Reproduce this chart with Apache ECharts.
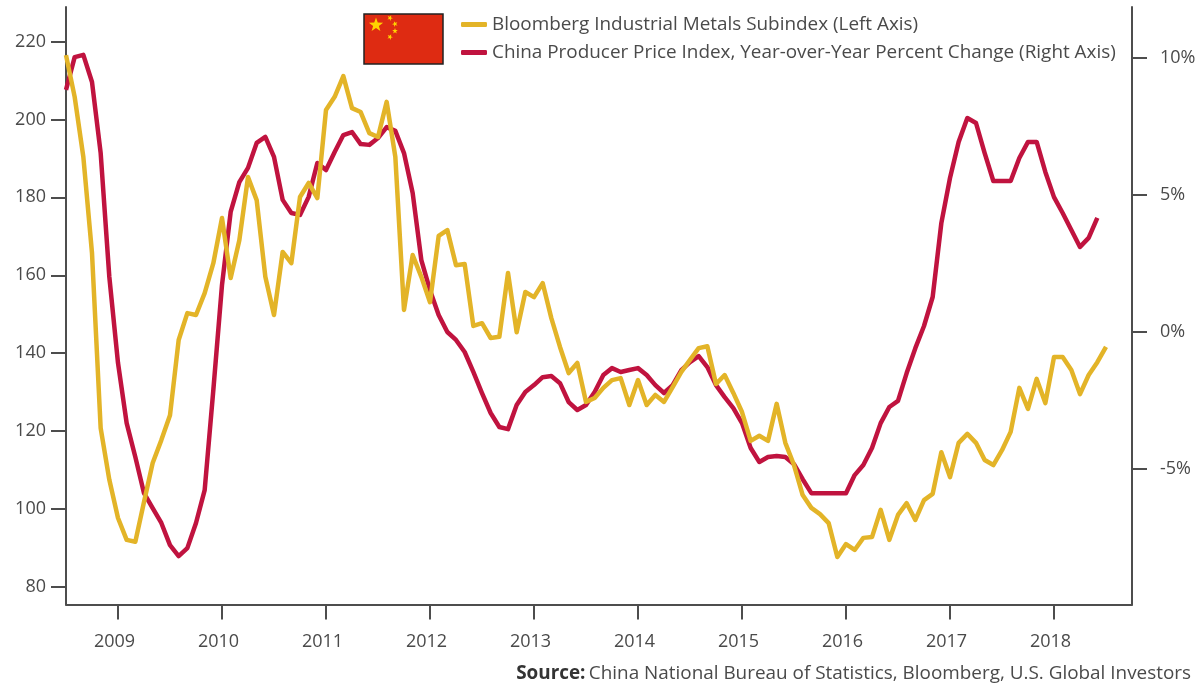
<!DOCTYPE html>
<html>
<head>
<meta charset="utf-8">
<style>
html, body { margin: 0; padding: 0; background: #fff; }
#chart { width: 1200px; height: 686px; }
</style>
<script src="https://cdn.jsdelivr.net/npm/echarts@6/dist/echarts.min.js"></script>
</head>
<body>
<div id="chart"></div>
<script>
// monthly, Jul 2008 onwards
const metals = [
  216.5, 205.8, 190.4, 165.7, 120.8, 107.5, 97.7, 92.1, 91.6, 101.8, 111.8, 117.7,
  124.1, 143.4, 150.3, 149.8, 155.4, 163.1, 174.7, 159.3, 169.0, 185.2, 179.3, 159.6,
  149.8, 166.0, 163.1, 180.1, 183.7, 179.8, 202.4, 205.8, 211.1, 202.9, 201.9, 196.5,
  195.5, 204.5, 190.4, 151.1, 165.2, 159.6, 153.1, 170.1, 171.6, 162.6, 162.9, 147.0,
  147.7, 143.9, 144.2, 160.6, 145.4, 155.7, 154.4, 158.0, 149.0, 141.6, 134.9, 137.5,
  127.5, 128.5, 131.1, 133.1, 133.6, 126.7, 133.1, 126.7, 129.3, 127.5, 131.3, 135.2,
  138.3, 141.3, 141.8, 132.1, 134.4, 129.8, 124.9, 117.5, 118.8, 117.5, 127.0, 117.0,
  111.3, 103.6, 100.3, 98.7, 96.4, 87.7, 91.0, 89.5, 92.6, 92.8, 99.8, 92.1,
  98.5, 101.5, 97.2, 102.3, 103.9, 114.6, 108.2, 117.0, 119.3, 117.0, 112.6, 111.3,
  115.1, 119.8, 131.1, 125.7, 133.4, 127.2, 139.0, 139.0, 135.7, 129.5, 134.4, 137.7,
  141.6
];
const ppi = [
  8.84, 10.04, 10.12, 9.13, 6.53, 2.0, -1.14, -3.34, -4.58, -5.9, -6.45, -6.99,
  -7.8, -8.2, -7.91, -6.99, -5.79, -2.13, 1.71, 4.38, 5.47, 5.99, 6.9, 7.12,
  6.39, 4.82, 4.34, 4.27, 4.93, 6.17, 5.91, 6.57, 7.19, 7.3, 6.86, 6.83,
  7.08, 7.48, 7.34, 6.53, 5.07, 2.62, 1.52, 0.61, -0.01, -0.3, -0.74, -1.47,
  -2.24, -2.97, -3.48, -3.56, -2.68, -2.2, -1.95, -1.66, -1.62, -1.88, -2.57, -2.86,
  -2.68, -2.2, -1.58, -1.33, -1.47, -1.4, -1.33, -1.58, -1.95, -2.24, -1.95, -1.4,
  -1.11, -0.89, -1.29, -1.95, -2.39, -2.79, -3.34, -4.25, -4.76, -4.58, -4.54, -4.58,
  -4.84, -5.39, -5.9, -5.9, -5.9, -5.9, -5.9, -5.24, -4.87, -4.25, -3.34, -2.75,
  -2.53, -1.51, -0.6, 0.21, 1.27, 3.97, 5.62, 6.94, 7.81, 7.63, 6.53, 5.51,
  5.51, 5.51, 6.35, 6.94, 6.94, 5.84, 4.92, 4.34, 3.72, 3.1, 3.43, 4.16
];
const leftTicks = [80, 100, 120, 140, 160, 180, 200, 220];
const rightTicks = [-5, 0, 5, 10];
const metalsName = 'Bloomberg Industrial Metals Subindex (Left Axis)';
const ppiName = 'China Producer Price Index, Year-over-Year Percent Change (Right Axis)';

// axis runs Jul 2008 - Oct 2018
const months = [];
for (let y = 2008, m = 7; months.length < 124; m++) {
  if (m > 12) { m = 1; y++; }
  months.push(y + '-' + String(m).padStart(2, '0'));
}
const isJan = (i, v) => v.slice(5) === '01';

const textColor = '#4a4a4a';
const axisColor = '#4d4d4d';
const fontFamily = '"Open Sans", sans-serif';
const fontSize = 18;
const noteSize = 18.9;

function star(cx, cy, r, rot) {
  const pts = [];
  for (let i = 0; i < 10; i++) {
    const rad = i % 2 ? r * 0.4 : r;
    const a = rot + i * Math.PI / 5 - Math.PI / 2;
    pts.push([cx + rad * Math.cos(a), cy + rad * Math.sin(a)]);
  }
  return { type: 'polygon', z: 11, shape: { points: pts }, style: { fill: '#ffd400' } };
}

const yStyle = {
  type: 'value',
  splitLine: { show: false },
  axisLine: { show: true, lineStyle: { color: axisColor, width: 2 } },
  axisTick: { show: true, length: 15, lineStyle: { color: axisColor, width: 2 } }
};

const myChart = echarts.init(document.getElementById('chart'), null, { renderer: 'canvas' });
myChart.setOption({
  animation: false,
  backgroundColor: '#fff',
  textStyle: { fontFamily: fontFamily },
  grid: { left: 66, top: 7, width: 1066, height: 597.5 },
  legend: {
    left: 456,
    top: 10,
    orient: 'vertical',
    itemWidth: 26,
    itemHeight: 5,
    itemGap: 9,
    icon: 'roundRect',
    data: [metalsName, ppiName],
    textStyle: { color: textColor, fontSize: noteSize, fontFamily: fontFamily }
  },
  xAxis: {
    type: 'category',
    data: months,
    boundaryGap: false,
    axisLine: { onZero: false, lineStyle: { color: axisColor, width: 2 } },
    axisTick: { show: true, length: 15, interval: isJan, lineStyle: { color: axisColor, width: 2 } },
    axisLabel: {
      interval: isJan,
      formatter: v => v.slice(0, 4),
      color: textColor,
      fontSize: fontSize,
      margin: 28,
      padding: [0, 7, 0, 0]
    }
  },
  yAxis: [
    Object.assign({}, yStyle, {
      position: 'left',
      min: 75.5,
      max: 228.86,
      axisTick: Object.assign({}, yStyle.axisTick, { customValues: leftTicks }),
      axisLabel: { customValues: leftTicks, color: textColor, fontSize: fontSize, margin: 20, padding: [3, 0, 0, 0] }
    }),
    Object.assign({}, yStyle, {
      position: 'right',
      min: -9.97,
      max: 11.87,
      axisTick: Object.assign({}, yStyle.axisTick, { customValues: rightTicks }),
      axisLabel: { customValues: rightTicks, formatter: v => v + '%', color: textColor, fontSize: fontSize, margin: 28, padding: [3, 0, 0, 0] }
    })
  ],
  series: [{
    name: metalsName,
    type: 'line',
    yAxisIndex: 0,
    data: metals,
    z: 3,
    symbol: 'none',
    clip: false,
    itemStyle: { color: '#e3b428' },
    lineStyle: { color: '#e3b428', width: 4.5, join: 'round' }
  }, {
    name: ppiName,
    type: 'line',
    yAxisIndex: 1,
    data: ppi,
    z: 2,
    symbol: 'none',
    clip: false,
    itemStyle: { color: '#c0133f' },
    lineStyle: { color: '#c0133f', width: 4.5, join: 'round' }
  }],
  graphic: [
    { type: 'rect', z: 10, shape: { x: 364, y: 14, width: 79, height: 50 }, style: { fill: '#de2b12', stroke: '#222', lineWidth: 1.5 } },
    star(376, 25, 7.5, 0),
    star(390, 18, 3, 0.4),
    star(395, 24, 3, 0.9),
    star(395, 31, 3, 0),
    star(390, 37, 3, 0.4),
    {
      type: 'text',
      z: 10,
      right: 9,
      top: 664,
      style: {
        rich: {
          b: { fontFamily: fontFamily, fontWeight: 'bold', fontSize: noteSize, fill: '#333' },
          n: { fontFamily: fontFamily, fontSize: noteSize, fill: textColor }
        },
        text: '{b|Source:} {n|China National Bureau of Statistics, Bloomberg, U.S. Global Investors}'
      }
    }
  ]
});
</script>
</body>
</html>
